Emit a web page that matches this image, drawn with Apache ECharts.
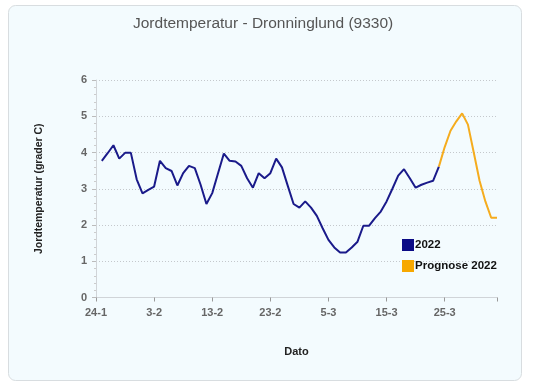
<!DOCTYPE html>
<html>
<head>
<meta charset="utf-8">
<script src="https://cdn.jsdelivr.net/npm/echarts@6/dist/echarts.min.js"></script>
<style>html,body{margin:0;padding:0;background:#fff}#c{width:534px;height:387px}</style>
</head>
<body>
<div id="c"></div>
<script>
// day index 0 = 24-1
var tickLabels = ['24-1','3-2','13-2','23-2','5-3','15-3','25-3'];
var obsDays = [1,2,3,4,5,6,7,8,9,10,11,12,13,14,15,16,17,18,19,20,21,22,23,24,25,26,27,28,29,30,31,32,33,34,35,36,37,38,39,40,41,42,43,44,45,46,47,48,49,50,51,52,53,54,55,56,57,58,59];
var obsValues = [3.77,3.98,4.20,3.83,3.99,3.99,3.26,2.87,2.97,3.06,3.77,3.57,3.49,3.09,3.43,3.63,3.57,3.11,2.58,2.88,3.43,3.97,3.77,3.75,3.63,3.29,3.03,3.43,3.29,3.43,3.83,3.59,3.08,2.58,2.48,2.65,2.48,2.25,1.91,1.59,1.38,1.24,1.24,1.38,1.54,1.98,1.98,2.19,2.37,2.65,3.00,3.36,3.54,3.29,3.03,3.11,3.17,3.22,3.61];
var progDays = [59,60,61,62,63,64,65,66,67,68,69];
var progValues = [3.61,4.15,4.60,4.86,5.08,4.77,4.00,3.22,2.65,2.20,2.20];

function pairs(xs, ys){ return xs.map(function(x,i){ return [x, ys[i]]; }); }

var chart = echarts.init(document.getElementById('c'));
chart.setOption({
  animation: false,
  backgroundColor: '#ffffff',
  graphic: [{
    type: 'rect', z: -10, silent: true,
    shape: { x: 8.5, y: 5.5, width: 513, height: 375, r: 7 },
    style: { fill: '#f3fbfe', stroke: '#d8dde0', lineWidth: 1 }
  }],
  title: {
    text: 'Jordtemperatur - Dronninglund (9330)',
    left: 128, top: 11,
    textStyle: { fontFamily: 'Liberation Sans, Arial, sans-serif', fontSize: 15.5, fontWeight: 'normal', color: '#555555' }
  },
  legend: {
    orient: 'vertical', left: 397, top: 234,
    itemWidth: 12, itemHeight: 12, itemGap: 9,
    icon: 'rect',
    textStyle: { fontFamily: 'Liberation Sans, Arial, sans-serif', fontSize: 11.5, fontWeight: 'bold', color: '#111', padding: [0,0,0,-4] },
    data: ['2022', 'Prognose 2022']
  },
  grid: { left: 96, right: 37, top: 80, bottom: 89.5 },
  xAxis: {
    type: 'value', min: 0, max: 69, interval: 10,
    name: 'Dato', nameLocation: 'middle', nameGap: 49,
    nameTextStyle: { fontFamily: 'Liberation Sans, Arial, sans-serif', fontSize: 11, fontWeight: 'bold', color: '#222' },
    axisLine: { show: true, lineStyle: { color: '#d0d4d8' } },
    axisTick: { show: true, length: 4, lineStyle: { color: '#999' } },
    splitLine: { show: false },
    axisLabel: {
      margin: 10, fontFamily: 'Liberation Sans, Arial, sans-serif', fontSize: 11, fontWeight: 'bold', color: '#666',
      formatter: function(v){ var i = v / 10; return (Number.isInteger(i) && tickLabels[i]) ? tickLabels[i] : ''; }
    }
  },
  yAxis: {
    type: 'value', min: 0, max: 6, interval: 1,
    name: 'Jordtemperatur (grader C)', nameLocation: 'middle', nameGap: 51,
    nameTextStyle: { fontFamily: 'Liberation Sans, Arial, sans-serif', fontSize: 10.5, fontWeight: 'bold', color: '#222' },
    axisLine: { show: true, lineStyle: { color: '#d0d4d8' } },
    axisTick: { show: true, length: 4, lineStyle: { color: '#bbb' } },
    minorTick: { show: true, splitNumber: 5, length: 2, lineStyle: { color: '#ccc' } },
    splitLine: { show: true, lineStyle: { color: '#c4c8cc', type: [1, 2] } },
    axisLabel: { margin: 9, fontFamily: 'Liberation Sans, Arial, sans-serif', fontSize: 11, fontWeight: 'bold', color: '#666' }
  },
  series: [
    { name: '2022', type: 'line', data: pairs(obsDays, obsValues), showSymbol: false, symbol: 'none',
      itemStyle: { color: '#0a0a85' }, lineStyle: { color: '#1a1a8a', width: 2 } },
    { name: 'Prognose 2022', type: 'line', data: pairs(progDays, progValues), showSymbol: false, symbol: 'none',
      itemStyle: { color: '#f7a800' }, lineStyle: { color: '#f5ac1e', width: 2 } }
  ]
});
</script>
</body>
</html>
